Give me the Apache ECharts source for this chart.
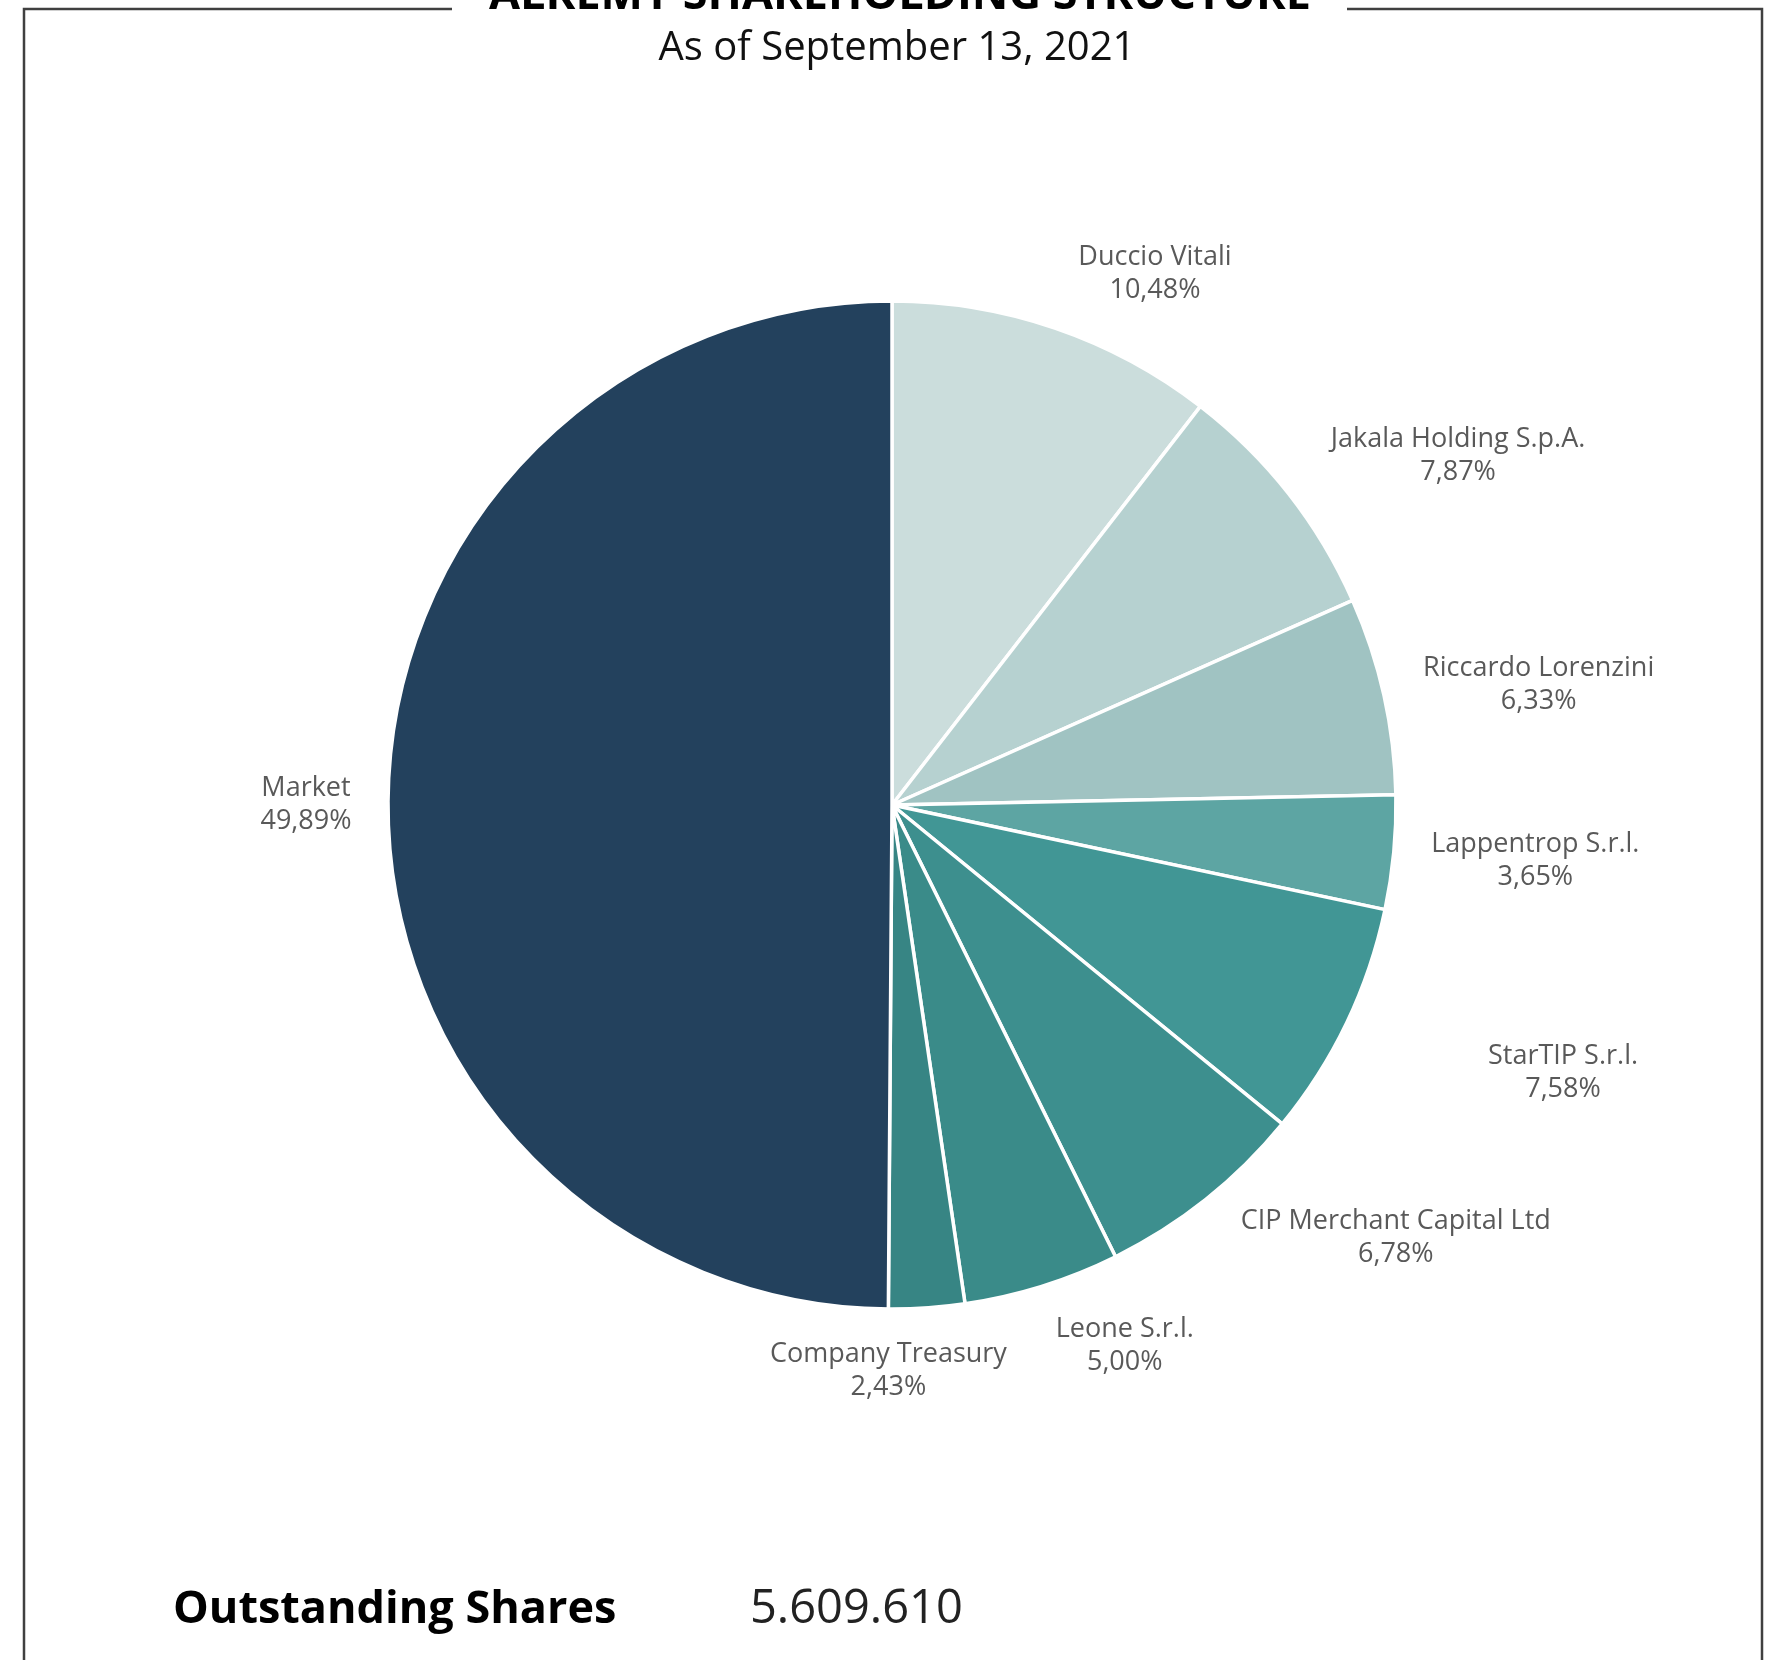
<!DOCTYPE html>
<html>
<head>
<meta charset="utf-8">
<script src="https://cdn.jsdelivr.net/npm/echarts@6/dist/echarts.min.js"></script>
<style>
  html, body { margin: 0; padding: 0; background: #fff; }
  #chart { width: 1774px; height: 1660px; }
</style>
</head>
<body>
<div id="chart"></div>
<script>
// shareholders, clockwise from 12 o'clock
const holders = ['Duccio Vitali', 'Jakala Holding S.p.A.', 'Riccardo Lorenzini', 'Lappentrop S.r.l.',
  'StarTIP S.r.l.', 'CIP Merchant Capital Ltd', 'Leone S.r.l.', 'Company Treasury', 'Market'];
const shares = [10.48, 7.87, 6.33, 3.65, 7.58, 6.78, 5.00, 2.43, 49.89];
const sliceColors = ['#CBDDDC', '#B6D1D0', '#A0C3C2', '#5DA5A3', '#419695', '#3D8F8E', '#3A8B89', '#378584', '#23415D'];
const outstanding = '5.609.610';

// label placement: distance from centre along mid angle, then a small shift (like Excel best fit)
const cx = 892, cy = 805, R = 504;
const labelDist = 600;
const labelShift = [[69, 37], [94, 21], [61, 10], [46, -1], [130, 8], [130, -37], [54, -32], [-45, -33], [14, 2]];

const total = shares.reduce((a, b) => a + b, 0);
let midAngles = [];
let acc = 0;
shares.forEach(v => {
  midAngles.push((acc + v / 2) / total * Math.PI * 2);
  acc += v;
});

let chart = echarts.init(document.getElementById('chart'));
chart.setOption({
  animation: false,
  series: [{
    type: 'pie',
    center: [cx, cy],
    radius: R,
    startAngle: 90,
    clockwise: true,
    avoidLabelOverlap: false,
    itemStyle: { borderColor: '#fff', borderWidth: 3.5 },
    label: {
      show: true,
      position: 'outside',
      color: '#595959',
      fontFamily: 'Open Sans',
      fontSize: 27,
      lineHeight: 33,
      formatter: p => p.name + '\n' + p.value.toFixed(2).replace('.', ',') + '%'
    },
    labelLine: { show: false },
    labelLayout: params => {
      let i = params.dataIndex;
      let a = midAngles[i];
      return {
        x: cx + labelDist * Math.sin(a) + labelShift[i][0],
        y: cy - labelDist * Math.cos(a) + labelShift[i][1],
        align: 'center',
        verticalAlign: 'middle'
      };
    },
    data: holders.map((n, i) => ({ name: n, value: shares[i], itemStyle: { color: sliceColors[i] } }))
  }],
  graphic: [
    // frame
    { type: 'polyline', shape: { points: [[452, 9], [24, 9], [24, 1670]] },
      style: { stroke: '#404040', lineWidth: 2.5, fill: null } },
    { type: 'polyline', shape: { points: [[1347, 9], [1762, 9], [1762, 1670]] },
      style: { stroke: '#404040', lineWidth: 2.5, fill: null } },
    { type: 'text', x: 900, y: -4,
      style: { text: 'ALKEMY SHAREHOLDING STRUCTURE', font: 'bold 45px "Open Sans"', fill: '#000',
        textAlign: 'center', textVerticalAlign: 'middle' } },
    { type: 'text', x: 897, y: 49,
      style: { text: 'As of September 13, 2021', font: '40px "Open Sans"', fill: '#111',
        textAlign: 'center', textVerticalAlign: 'middle' } },
    { type: 'text', x: 173, y: 1610,
      style: { text: 'Outstanding Shares', font: 'bold 45px "Open Sans"', fill: '#000',
        textAlign: 'left', textVerticalAlign: 'middle' } },
    { type: 'text', x: 750, y: 1610,
      style: { text: outstanding, font: '47px "Open Sans"', fill: '#222',
        textAlign: 'left', textVerticalAlign: 'middle' } }
  ]
});
</script>
</body>
</html>
